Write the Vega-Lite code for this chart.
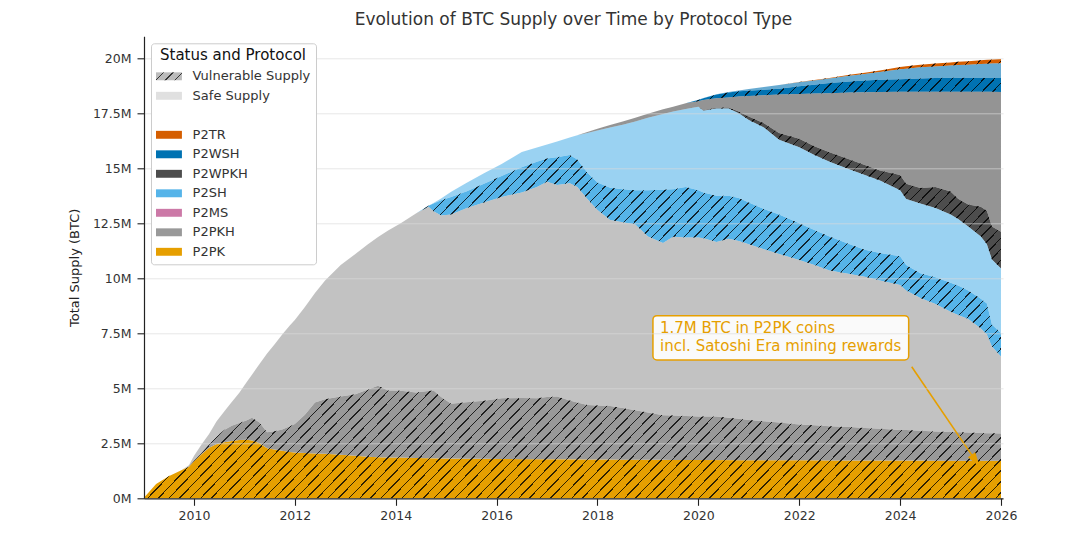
{
  "$schema": "https://vega.github.io/schema/vega-lite/v6.json",
  "width": 859,
  "height": 462,
  "autosize": {"type": "none"},
  "padding": {"left": 144, "top": 36.3, "right": 77, "bottom": 44.7},
  "background": "white",
  "title": {
    "text": "Evolution of BTC Supply over Time by Protocol Type",
    "fontSize": 17,
    "fontWeight": "normal",
    "color": "#333333",
    "anchor": "middle",
    "offset": 7
  },
  "config": {"font": "DejaVu Sans", "view": {"stroke": null}},
  "data": {
    "values": [
      {"t":2009,"p":"P2PK","s":"V","lo":0,"hi":0},
      {"t":2009.25,"p":"P2PK","s":"V","lo":0,"hi":0.65},
      {"t":2009.5,"p":"P2PK","s":"V","lo":0,"hi":1.0},
      {"t":2009.75,"p":"P2PK","s":"V","lo":0,"hi":1.27},
      {"t":2009.9,"p":"P2PK","s":"V","lo":0,"hi":1.43},
      {"t":2010,"p":"P2PK","s":"V","lo":0,"hi":1.68},
      {"t":2010.15,"p":"P2PK","s":"V","lo":0,"hi":2.0},
      {"t":2010.3,"p":"P2PK","s":"V","lo":0,"hi":2.3},
      {"t":2010.45,"p":"P2PK","s":"V","lo":0,"hi":2.47},
      {"t":2010.6,"p":"P2PK","s":"V","lo":0,"hi":2.55},
      {"t":2010.75,"p":"P2PK","s":"V","lo":0,"hi":2.6},
      {"t":2010.9,"p":"P2PK","s":"V","lo":0,"hi":2.65},
      {"t":2011.05,"p":"P2PK","s":"V","lo":0,"hi":2.66},
      {"t":2011.15,"p":"P2PK","s":"V","lo":0,"hi":2.63},
      {"t":2011.3,"p":"P2PK","s":"V","lo":0,"hi":2.5},
      {"t":2011.45,"p":"P2PK","s":"V","lo":0,"hi":2.28},
      {"t":2011.6,"p":"P2PK","s":"V","lo":0,"hi":2.22},
      {"t":2011.75,"p":"P2PK","s":"V","lo":0,"hi":2.16},
      {"t":2011.9,"p":"P2PK","s":"V","lo":0,"hi":2.1},
      {"t":2012,"p":"P2PK","s":"V","lo":0,"hi":2.08},
      {"t":2012.2,"p":"P2PK","s":"V","lo":0,"hi":2.06},
      {"t":2012.4,"p":"P2PK","s":"V","lo":0,"hi":2.04},
      {"t":2012.6,"p":"P2PK","s":"V","lo":0,"hi":2.03},
      {"t":2012.91,"p":"P2PK","s":"V","lo":0,"hi":1.98},
      {"t":2013.2,"p":"P2PK","s":"V","lo":0,"hi":1.93},
      {"t":2013.45,"p":"P2PK","s":"V","lo":0,"hi":1.89},
      {"t":2013.65,"p":"P2PK","s":"V","lo":0,"hi":1.87},
      {"t":2013.85,"p":"P2PK","s":"V","lo":0,"hi":1.86},
      {"t":2014.1,"p":"P2PK","s":"V","lo":0,"hi":1.85},
      {"t":2014.4,"p":"P2PK","s":"V","lo":0,"hi":1.83},
      {"t":2014.9,"p":"P2PK","s":"V","lo":0,"hi":1.81},
      {"t":2015.4,"p":"P2PK","s":"V","lo":0,"hi":1.8},
      {"t":2016.1,"p":"P2PK","s":"V","lo":0,"hi":1.79},
      {"t":2017,"p":"P2PK","s":"V","lo":0,"hi":1.77},
      {"t":2018,"p":"P2PK","s":"V","lo":0,"hi":1.76},
      {"t":2019,"p":"P2PK","s":"V","lo":0,"hi":1.75},
      {"t":2020,"p":"P2PK","s":"V","lo":0,"hi":1.74},
      {"t":2021,"p":"P2PK","s":"V","lo":0,"hi":1.73},
      {"t":2022,"p":"P2PK","s":"V","lo":0,"hi":1.73},
      {"t":2023,"p":"P2PK","s":"V","lo":0,"hi":1.72},
      {"t":2024,"p":"P2PK","s":"V","lo":0,"hi":1.72},
      {"t":2025,"p":"P2PK","s":"V","lo":0,"hi":1.71},
      {"t":2026,"p":"P2PK","s":"V","lo":0,"hi":1.71},
      {"s":"V"},
      {"t":2009.9,"p":"P2PKH","s":"V","lo":1.43,"hi":1.43},
      {"t":2010,"p":"P2PKH","s":"V","lo":1.68,"hi":1.7},
      {"t":2010.15,"p":"P2PKH","s":"V","lo":2.0,"hi":2.05},
      {"t":2010.3,"p":"P2PKH","s":"V","lo":2.3,"hi":2.45},
      {"t":2010.45,"p":"P2PKH","s":"V","lo":2.47,"hi":2.81},
      {"t":2010.6,"p":"P2PKH","s":"V","lo":2.55,"hi":3.1},
      {"t":2010.75,"p":"P2PKH","s":"V","lo":2.6,"hi":3.3},
      {"t":2010.9,"p":"P2PKH","s":"V","lo":2.65,"hi":3.42},
      {"t":2011.05,"p":"P2PKH","s":"V","lo":2.66,"hi":3.55},
      {"t":2011.15,"p":"P2PKH","s":"V","lo":2.63,"hi":3.66},
      {"t":2011.3,"p":"P2PKH","s":"V","lo":2.5,"hi":3.45},
      {"t":2011.45,"p":"P2PKH","s":"V","lo":2.28,"hi":3.0},
      {"t":2011.6,"p":"P2PKH","s":"V","lo":2.22,"hi":3.05},
      {"t":2011.75,"p":"P2PKH","s":"V","lo":2.16,"hi":3.13},
      {"t":2011.9,"p":"P2PKH","s":"V","lo":2.1,"hi":3.28},
      {"t":2012,"p":"P2PKH","s":"V","lo":2.08,"hi":3.38},
      {"t":2012.2,"p":"P2PKH","s":"V","lo":2.06,"hi":3.8},
      {"t":2012.4,"p":"P2PKH","s":"V","lo":2.04,"hi":4.35},
      {"t":2012.6,"p":"P2PKH","s":"V","lo":2.03,"hi":4.5},
      {"t":2012.91,"p":"P2PKH","s":"V","lo":1.98,"hi":4.63},
      {"t":2013.2,"p":"P2PKH","s":"V","lo":1.93,"hi":4.73},
      {"t":2013.45,"p":"P2PKH","s":"V","lo":1.89,"hi":4.95},
      {"t":2013.65,"p":"P2PKH","s":"V","lo":1.87,"hi":5.12},
      {"t":2013.85,"p":"P2PKH","s":"V","lo":1.86,"hi":4.9},
      {"t":2014.1,"p":"P2PKH","s":"V","lo":1.85,"hi":4.89},
      {"t":2014.4,"p":"P2PKH","s":"V","lo":1.83,"hi":4.81},
      {"t":2014.65,"p":"P2PKH","s":"V","lo":1.82,"hi":4.88},
      {"t":2014.75,"p":"P2PKH","s":"V","lo":1.82,"hi":4.9},
      {"t":2014.9,"p":"P2PKH","s":"V","lo":1.81,"hi":4.6},
      {"t":2015.1,"p":"P2PKH","s":"V","lo":1.81,"hi":4.3},
      {"t":2015.4,"p":"P2PKH","s":"V","lo":1.8,"hi":4.37},
      {"t":2015.75,"p":"P2PKH","s":"V","lo":1.8,"hi":4.43},
      {"t":2016.1,"p":"P2PKH","s":"V","lo":1.79,"hi":4.55},
      {"t":2016.5,"p":"P2PKH","s":"V","lo":1.78,"hi":4.56},
      {"t":2016.8,"p":"P2PKH","s":"V","lo":1.78,"hi":4.55},
      {"t":2017,"p":"P2PKH","s":"V","lo":1.77,"hi":4.6},
      {"t":2017.2,"p":"P2PKH","s":"V","lo":1.77,"hi":4.63},
      {"t":2017.45,"p":"P2PKH","s":"V","lo":1.77,"hi":4.45},
      {"t":2017.6,"p":"P2PKH","s":"V","lo":1.77,"hi":4.35},
      {"t":2017.8,"p":"P2PKH","s":"V","lo":1.76,"hi":4.24},
      {"t":2018,"p":"P2PKH","s":"V","lo":1.76,"hi":4.22},
      {"t":2018.25,"p":"P2PKH","s":"V","lo":1.76,"hi":4.2},
      {"t":2018.5,"p":"P2PKH","s":"V","lo":1.75,"hi":4.1},
      {"t":2018.75,"p":"P2PKH","s":"V","lo":1.75,"hi":4.0},
      {"t":2019,"p":"P2PKH","s":"V","lo":1.75,"hi":3.9},
      {"t":2019.3,"p":"P2PKH","s":"V","lo":1.75,"hi":3.78},
      {"t":2019.5,"p":"P2PKH","s":"V","lo":1.74,"hi":3.76},
      {"t":2019.75,"p":"P2PKH","s":"V","lo":1.74,"hi":3.74},
      {"t":2020,"p":"P2PKH","s":"V","lo":1.74,"hi":3.72},
      {"t":2020.1,"p":"P2PKH","s":"V","lo":1.74,"hi":3.72},
      {"t":2020.36,"p":"P2PKH","s":"V","lo":1.74,"hi":3.72},
      {"t":2020.6,"p":"P2PKH","s":"V","lo":1.74,"hi":3.66},
      {"t":2020.8,"p":"P2PKH","s":"V","lo":1.73,"hi":3.62},
      {"t":2021,"p":"P2PKH","s":"V","lo":1.73,"hi":3.56},
      {"t":2021.3,"p":"P2PKH","s":"V","lo":1.73,"hi":3.5},
      {"t":2021.6,"p":"P2PKH","s":"V","lo":1.73,"hi":3.44},
      {"t":2022,"p":"P2PKH","s":"V","lo":1.73,"hi":3.36},
      {"t":2022.3,"p":"P2PKH","s":"V","lo":1.73,"hi":3.32},
      {"t":2022.6,"p":"P2PKH","s":"V","lo":1.72,"hi":3.28},
      {"t":2023,"p":"P2PKH","s":"V","lo":1.72,"hi":3.24},
      {"t":2023.3,"p":"P2PKH","s":"V","lo":1.72,"hi":3.2},
      {"t":2023.6,"p":"P2PKH","s":"V","lo":1.72,"hi":3.16},
      {"t":2024,"p":"P2PKH","s":"V","lo":1.72,"hi":3.11},
      {"t":2024.12,"p":"P2PKH","s":"V","lo":1.72,"hi":3.1},
      {"t":2024.4,"p":"P2PKH","s":"V","lo":1.72,"hi":3.07},
      {"t":2024.7,"p":"P2PKH","s":"V","lo":1.71,"hi":3.04},
      {"t":2025,"p":"P2PKH","s":"V","lo":1.71,"hi":3.01},
      {"t":2025.15,"p":"P2PKH","s":"V","lo":1.71,"hi":3.0},
      {"t":2025.35,"p":"P2PKH","s":"V","lo":1.71,"hi":2.99},
      {"t":2025.6,"p":"P2PKH","s":"V","lo":1.71,"hi":2.97},
      {"t":2025.72,"p":"P2PKH","s":"V","lo":1.71,"hi":2.96},
      {"t":2025.82,"p":"P2PKH","s":"V","lo":1.71,"hi":2.96},
      {"t":2026,"p":"P2PKH","s":"V","lo":1.71,"hi":2.95},
      {"s":"V"},
      {"t":2014.4,"p":"P2SH","s":"V","lo":12.95,"hi":12.95},
      {"t":2014.65,"p":"P2SH","s":"V","lo":13.25,"hi":13.3},
      {"t":2014.75,"p":"P2SH","s":"V","lo":13.05,"hi":13.4},
      {"t":2014.9,"p":"P2SH","s":"V","lo":12.85,"hi":13.55},
      {"t":2015.1,"p":"P2SH","s":"V","lo":12.9,"hi":13.7},
      {"t":2015.4,"p":"P2SH","s":"V","lo":13.18,"hi":13.94},
      {"t":2015.75,"p":"P2SH","s":"V","lo":13.45,"hi":14.3},
      {"t":2016.1,"p":"P2SH","s":"V","lo":13.7,"hi":14.65},
      {"t":2016.5,"p":"P2SH","s":"V","lo":13.9,"hi":15.05},
      {"t":2016.8,"p":"P2SH","s":"V","lo":14.15,"hi":15.3},
      {"t":2017,"p":"P2SH","s":"V","lo":14.39,"hi":15.45},
      {"t":2017.2,"p":"P2SH","s":"V","lo":14.24,"hi":15.5},
      {"t":2017.45,"p":"P2SH","s":"V","lo":14.32,"hi":15.6},
      {"t":2017.6,"p":"P2SH","s":"V","lo":14.15,"hi":15.4},
      {"t":2017.8,"p":"P2SH","s":"V","lo":13.6,"hi":14.8},
      {"t":2018,"p":"P2SH","s":"V","lo":13.1,"hi":14.35},
      {"t":2018.25,"p":"P2SH","s":"V","lo":12.65,"hi":14.12},
      {"t":2018.5,"p":"P2SH","s":"V","lo":12.55,"hi":14.05},
      {"t":2018.75,"p":"P2SH","s":"V","lo":12.45,"hi":14.0},
      {"t":2019,"p":"P2SH","s":"V","lo":11.9,"hi":14.0},
      {"t":2019.3,"p":"P2SH","s":"V","lo":11.6,"hi":14.02},
      {"t":2019.5,"p":"P2SH","s":"V","lo":11.89,"hi":14.05},
      {"t":2019.75,"p":"P2SH","s":"V","lo":11.85,"hi":14.15},
      {"t":2020,"p":"P2SH","s":"V","lo":11.85,"hi":14.0},
      {"t":2020.1,"p":"P2SH","s":"V","lo":11.82,"hi":13.9},
      {"t":2020.36,"p":"P2SH","s":"V","lo":11.65,"hi":13.75},
      {"t":2020.6,"p":"P2SH","s":"V","lo":11.8,"hi":13.75},
      {"t":2020.8,"p":"P2SH","s":"V","lo":11.7,"hi":13.65},
      {"t":2021,"p":"P2SH","s":"V","lo":11.55,"hi":13.45},
      {"t":2021.3,"p":"P2SH","s":"V","lo":11.32,"hi":13.15},
      {"t":2021.6,"p":"P2SH","s":"V","lo":11.1,"hi":12.9},
      {"t":2022,"p":"P2SH","s":"V","lo":10.83,"hi":12.5},
      {"t":2022.3,"p":"P2SH","s":"V","lo":10.6,"hi":12.2},
      {"t":2022.6,"p":"P2SH","s":"V","lo":10.35,"hi":11.9},
      {"t":2023,"p":"P2SH","s":"V","lo":10.2,"hi":11.55},
      {"t":2023.3,"p":"P2SH","s":"V","lo":10.07,"hi":11.3},
      {"t":2023.6,"p":"P2SH","s":"V","lo":9.9,"hi":11.15},
      {"t":2024,"p":"P2SH","s":"V","lo":9.7,"hi":11.0},
      {"t":2024.12,"p":"P2SH","s":"V","lo":9.45,"hi":10.6},
      {"t":2024.4,"p":"P2SH","s":"V","lo":9.1,"hi":10.23},
      {"t":2024.7,"p":"P2SH","s":"V","lo":8.83,"hi":10.05},
      {"t":2025,"p":"P2SH","s":"V","lo":8.48,"hi":9.8},
      {"t":2025.15,"p":"P2SH","s":"V","lo":8.33,"hi":9.67},
      {"t":2025.35,"p":"P2SH","s":"V","lo":8.15,"hi":9.45},
      {"t":2025.6,"p":"P2SH","s":"V","lo":7.72,"hi":9.07},
      {"t":2025.72,"p":"P2SH","s":"V","lo":7.45,"hi":8.86},
      {"t":2025.82,"p":"P2SH","s":"V","lo":6.9,"hi":7.9},
      {"t":2026,"p":"P2SH","s":"V","lo":6.44,"hi":7.5},
      {"s":"V"},
      {"t":2020,"p":"P2WPKH","s":"V","lo":17.8,"hi":17.8},
      {"t":2020.1,"p":"P2WPKH","s":"V","lo":17.62,"hi":17.64},
      {"t":2020.36,"p":"P2WPKH","s":"V","lo":17.72,"hi":17.75},
      {"t":2020.6,"p":"P2WPKH","s":"V","lo":17.72,"hi":17.76},
      {"t":2020.8,"p":"P2WPKH","s":"V","lo":17.5,"hi":17.58},
      {"t":2021,"p":"P2WPKH","s":"V","lo":17.2,"hi":17.35},
      {"t":2021.3,"p":"P2WPKH","s":"V","lo":16.85,"hi":17.05},
      {"t":2021.6,"p":"P2WPKH","s":"V","lo":16.3,"hi":16.6},
      {"t":2022,"p":"P2WPKH","s":"V","lo":15.96,"hi":16.34},
      {"t":2022.3,"p":"P2WPKH","s":"V","lo":15.6,"hi":16.0},
      {"t":2022.6,"p":"P2WPKH","s":"V","lo":15.3,"hi":15.73},
      {"t":2023,"p":"P2WPKH","s":"V","lo":14.95,"hi":15.4},
      {"t":2023.3,"p":"P2WPKH","s":"V","lo":14.7,"hi":15.15},
      {"t":2023.6,"p":"P2WPKH","s":"V","lo":14.45,"hi":14.9},
      {"t":2024,"p":"P2WPKH","s":"V","lo":14.0,"hi":14.7},
      {"t":2024.12,"p":"P2WPKH","s":"V","lo":13.6,"hi":14.3},
      {"t":2024.4,"p":"P2WPKH","s":"V","lo":13.4,"hi":14.1},
      {"t":2024.7,"p":"P2WPKH","s":"V","lo":13.2,"hi":14.15},
      {"t":2025,"p":"P2WPKH","s":"V","lo":12.9,"hi":13.95},
      {"t":2025.15,"p":"P2WPKH","s":"V","lo":12.7,"hi":13.62},
      {"t":2025.35,"p":"P2WPKH","s":"V","lo":12.35,"hi":13.35},
      {"t":2025.6,"p":"P2WPKH","s":"V","lo":11.9,"hi":13.25},
      {"t":2025.72,"p":"P2WPKH","s":"V","lo":11.55,"hi":13.07},
      {"t":2025.82,"p":"P2WPKH","s":"V","lo":10.85,"hi":12.35},
      {"t":2026,"p":"P2WPKH","s":"V","lo":10.45,"hi":12.12},
      {"s":"V"},
      {"t":2019.75,"p":"P2WSH","s":"V","lo":17.96,"hi":17.96},
      {"t":2020,"p":"P2WSH","s":"V","lo":18.05,"hi":18.1},
      {"t":2020.1,"p":"P2WSH","s":"V","lo":18.1,"hi":18.18},
      {"t":2020.36,"p":"P2WSH","s":"V","lo":18.18,"hi":18.36},
      {"t":2020.6,"p":"P2WSH","s":"V","lo":18.22,"hi":18.44},
      {"t":2020.8,"p":"P2WSH","s":"V","lo":18.26,"hi":18.5},
      {"t":2021,"p":"P2WSH","s":"V","lo":18.29,"hi":18.53},
      {"t":2021.3,"p":"P2WSH","s":"V","lo":18.32,"hi":18.57},
      {"t":2021.6,"p":"P2WSH","s":"V","lo":18.35,"hi":18.62},
      {"t":2022,"p":"P2WSH","s":"V","lo":18.38,"hi":18.73},
      {"t":2022.3,"p":"P2WSH","s":"V","lo":18.4,"hi":18.8},
      {"t":2022.6,"p":"P2WSH","s":"V","lo":18.41,"hi":18.88},
      {"t":2023,"p":"P2WSH","s":"V","lo":18.44,"hi":18.95},
      {"t":2023.3,"p":"P2WSH","s":"V","lo":18.46,"hi":18.99},
      {"t":2023.6,"p":"P2WSH","s":"V","lo":18.47,"hi":19.02},
      {"t":2024,"p":"P2WSH","s":"V","lo":18.48,"hi":19.05},
      {"t":2024.12,"p":"P2WSH","s":"V","lo":18.48,"hi":19.06},
      {"t":2024.4,"p":"P2WSH","s":"V","lo":18.48,"hi":19.08},
      {"t":2024.7,"p":"P2WSH","s":"V","lo":18.48,"hi":19.1},
      {"t":2025,"p":"P2WSH","s":"V","lo":18.48,"hi":19.12},
      {"t":2025.15,"p":"P2WSH","s":"V","lo":18.48,"hi":19.12},
      {"t":2025.35,"p":"P2WSH","s":"V","lo":18.48,"hi":19.11},
      {"t":2025.6,"p":"P2WSH","s":"V","lo":18.48,"hi":19.1},
      {"t":2025.72,"p":"P2WSH","s":"V","lo":18.48,"hi":19.1},
      {"t":2025.82,"p":"P2WSH","s":"V","lo":18.48,"hi":19.1},
      {"t":2026,"p":"P2WSH","s":"V","lo":18.47,"hi":19.1},
      {"s":"V"},
      {"t":2021.6,"p":"P2TR","s":"V","lo":18.79,"hi":18.79},
      {"t":2022,"p":"P2TR","s":"V","lo":18.91,"hi":18.92},
      {"t":2022.3,"p":"P2TR","s":"V","lo":18.99,"hi":19.01},
      {"t":2022.6,"p":"P2TR","s":"V","lo":19.08,"hi":19.11},
      {"t":2023,"p":"P2TR","s":"V","lo":19.21,"hi":19.25},
      {"t":2023.3,"p":"P2TR","s":"V","lo":19.29,"hi":19.34},
      {"t":2023.6,"p":"P2TR","s":"V","lo":19.38,"hi":19.45},
      {"t":2024,"p":"P2TR","s":"V","lo":19.5,"hi":19.6},
      {"t":2024.12,"p":"P2TR","s":"V","lo":19.53,"hi":19.64},
      {"t":2024.4,"p":"P2TR","s":"V","lo":19.59,"hi":19.71},
      {"t":2024.7,"p":"P2TR","s":"V","lo":19.63,"hi":19.76},
      {"t":2025,"p":"P2TR","s":"V","lo":19.67,"hi":19.81},
      {"t":2025.15,"p":"P2TR","s":"V","lo":19.69,"hi":19.84},
      {"t":2025.35,"p":"P2TR","s":"V","lo":19.71,"hi":19.87},
      {"t":2025.6,"p":"P2TR","s":"V","lo":19.74,"hi":19.91},
      {"t":2025.72,"p":"P2TR","s":"V","lo":19.75,"hi":19.93},
      {"t":2025.82,"p":"P2TR","s":"V","lo":19.76,"hi":19.94},
      {"t":2026,"p":"P2TR","s":"V","lo":19.77,"hi":19.97},
      {"t":2009.75,"p":"P2PKH","s":"S","lo":1.27,"hi":1.27},
      {"t":2009.9,"p":"P2PKH","s":"S","lo":1.43,"hi":1.5},
      {"t":2010,"p":"P2PKH","s":"S","lo":1.7,"hi":1.92},
      {"t":2010.15,"p":"P2PKH","s":"S","lo":2.05,"hi":2.45},
      {"t":2010.3,"p":"P2PKH","s":"S","lo":2.45,"hi":2.92},
      {"t":2010.45,"p":"P2PKH","s":"S","lo":2.81,"hi":3.5},
      {"t":2010.6,"p":"P2PKH","s":"S","lo":3.1,"hi":3.95},
      {"t":2010.75,"p":"P2PKH","s":"S","lo":3.3,"hi":4.38},
      {"t":2010.9,"p":"P2PKH","s":"S","lo":3.42,"hi":4.8},
      {"t":2011.05,"p":"P2PKH","s":"S","lo":3.55,"hi":5.3},
      {"t":2011.15,"p":"P2PKH","s":"S","lo":3.66,"hi":5.62},
      {"t":2011.3,"p":"P2PKH","s":"S","lo":3.45,"hi":6.1},
      {"t":2011.45,"p":"P2PKH","s":"S","lo":3.0,"hi":6.58},
      {"t":2011.6,"p":"P2PKH","s":"S","lo":3.05,"hi":7.0},
      {"t":2011.75,"p":"P2PKH","s":"S","lo":3.13,"hi":7.45},
      {"t":2011.9,"p":"P2PKH","s":"S","lo":3.28,"hi":7.85},
      {"t":2012,"p":"P2PKH","s":"S","lo":3.38,"hi":8.1},
      {"t":2012.2,"p":"P2PKH","s":"S","lo":3.8,"hi":8.7},
      {"t":2012.4,"p":"P2PKH","s":"S","lo":4.35,"hi":9.33},
      {"t":2012.6,"p":"P2PKH","s":"S","lo":4.5,"hi":9.9},
      {"t":2012.91,"p":"P2PKH","s":"S","lo":4.63,"hi":10.6},
      {"t":2013.2,"p":"P2PKH","s":"S","lo":4.73,"hi":11.1},
      {"t":2013.45,"p":"P2PKH","s":"S","lo":4.95,"hi":11.55},
      {"t":2013.65,"p":"P2PKH","s":"S","lo":5.12,"hi":11.88},
      {"t":2013.85,"p":"P2PKH","s":"S","lo":4.9,"hi":12.17},
      {"t":2014.1,"p":"P2PKH","s":"S","lo":4.89,"hi":12.5},
      {"t":2014.4,"p":"P2PKH","s":"S","lo":4.81,"hi":12.95},
      {"t":2014.65,"p":"P2PKH","s":"S","lo":4.88,"hi":13.25},
      {"t":2014.75,"p":"P2PKH","s":"S","lo":4.9,"hi":13.05},
      {"t":2014.9,"p":"P2PKH","s":"S","lo":4.6,"hi":12.85},
      {"t":2015.1,"p":"P2PKH","s":"S","lo":4.3,"hi":12.9},
      {"t":2015.4,"p":"P2PKH","s":"S","lo":4.37,"hi":13.18},
      {"t":2015.75,"p":"P2PKH","s":"S","lo":4.43,"hi":13.45},
      {"t":2016.1,"p":"P2PKH","s":"S","lo":4.55,"hi":13.7},
      {"t":2016.5,"p":"P2PKH","s":"S","lo":4.56,"hi":13.9},
      {"t":2016.8,"p":"P2PKH","s":"S","lo":4.55,"hi":14.15},
      {"t":2017,"p":"P2PKH","s":"S","lo":4.6,"hi":14.39},
      {"t":2017.2,"p":"P2PKH","s":"S","lo":4.63,"hi":14.24},
      {"t":2017.45,"p":"P2PKH","s":"S","lo":4.45,"hi":14.32},
      {"t":2017.6,"p":"P2PKH","s":"S","lo":4.35,"hi":14.15},
      {"t":2017.8,"p":"P2PKH","s":"S","lo":4.24,"hi":13.6},
      {"t":2018,"p":"P2PKH","s":"S","lo":4.22,"hi":13.1},
      {"t":2018.25,"p":"P2PKH","s":"S","lo":4.2,"hi":12.65},
      {"t":2018.5,"p":"P2PKH","s":"S","lo":4.1,"hi":12.55},
      {"t":2018.75,"p":"P2PKH","s":"S","lo":4.0,"hi":12.45},
      {"t":2019,"p":"P2PKH","s":"S","lo":3.9,"hi":11.9},
      {"t":2019.3,"p":"P2PKH","s":"S","lo":3.78,"hi":11.6},
      {"t":2019.5,"p":"P2PKH","s":"S","lo":3.76,"hi":11.89},
      {"t":2019.75,"p":"P2PKH","s":"S","lo":3.74,"hi":11.85},
      {"t":2020,"p":"P2PKH","s":"S","lo":3.72,"hi":11.85},
      {"t":2020.1,"p":"P2PKH","s":"S","lo":3.72,"hi":11.82},
      {"t":2020.36,"p":"P2PKH","s":"S","lo":3.72,"hi":11.65},
      {"t":2020.6,"p":"P2PKH","s":"S","lo":3.66,"hi":11.8},
      {"t":2020.8,"p":"P2PKH","s":"S","lo":3.62,"hi":11.7},
      {"t":2021,"p":"P2PKH","s":"S","lo":3.56,"hi":11.55},
      {"t":2021.3,"p":"P2PKH","s":"S","lo":3.5,"hi":11.32},
      {"t":2021.6,"p":"P2PKH","s":"S","lo":3.44,"hi":11.1},
      {"t":2022,"p":"P2PKH","s":"S","lo":3.36,"hi":10.83},
      {"t":2022.3,"p":"P2PKH","s":"S","lo":3.32,"hi":10.6},
      {"t":2022.6,"p":"P2PKH","s":"S","lo":3.28,"hi":10.35},
      {"t":2023,"p":"P2PKH","s":"S","lo":3.24,"hi":10.2},
      {"t":2023.3,"p":"P2PKH","s":"S","lo":3.2,"hi":10.07},
      {"t":2023.6,"p":"P2PKH","s":"S","lo":3.16,"hi":9.9},
      {"t":2024,"p":"P2PKH","s":"S","lo":3.11,"hi":9.7},
      {"t":2024.12,"p":"P2PKH","s":"S","lo":3.1,"hi":9.45},
      {"t":2024.4,"p":"P2PKH","s":"S","lo":3.07,"hi":9.1},
      {"t":2024.7,"p":"P2PKH","s":"S","lo":3.04,"hi":8.83},
      {"t":2025,"p":"P2PKH","s":"S","lo":3.01,"hi":8.48},
      {"t":2025.15,"p":"P2PKH","s":"S","lo":3.0,"hi":8.33},
      {"t":2025.35,"p":"P2PKH","s":"S","lo":2.99,"hi":8.15},
      {"t":2025.6,"p":"P2PKH","s":"S","lo":2.97,"hi":7.72},
      {"t":2025.72,"p":"P2PKH","s":"S","lo":2.96,"hi":7.45},
      {"t":2025.82,"p":"P2PKH","s":"S","lo":2.96,"hi":6.9},
      {"t":2026,"p":"P2PKH","s":"S","lo":2.95,"hi":6.44},
      {"t":2014.4,"p":"P2SH","s":"S","lo":12.95,"hi":12.95},
      {"t":2014.65,"p":"P2SH","s":"S","lo":13.3,"hi":13.3},
      {"t":2014.75,"p":"P2SH","s":"S","lo":13.4,"hi":13.42},
      {"t":2014.9,"p":"P2SH","s":"S","lo":13.55,"hi":13.63},
      {"t":2015.1,"p":"P2SH","s":"S","lo":13.7,"hi":13.93},
      {"t":2015.4,"p":"P2SH","s":"S","lo":13.94,"hi":14.33},
      {"t":2015.75,"p":"P2SH","s":"S","lo":14.3,"hi":14.78},
      {"t":2016.1,"p":"P2SH","s":"S","lo":14.65,"hi":15.2},
      {"t":2016.5,"p":"P2SH","s":"S","lo":15.05,"hi":15.74},
      {"t":2016.8,"p":"P2SH","s":"S","lo":15.3,"hi":15.95},
      {"t":2017,"p":"P2SH","s":"S","lo":15.45,"hi":16.08},
      {"t":2017.2,"p":"P2SH","s":"S","lo":15.5,"hi":16.22},
      {"t":2017.45,"p":"P2SH","s":"S","lo":15.6,"hi":16.4},
      {"t":2017.6,"p":"P2SH","s":"S","lo":15.4,"hi":16.5},
      {"t":2017.8,"p":"P2SH","s":"S","lo":14.8,"hi":16.6},
      {"t":2018,"p":"P2SH","s":"S","lo":14.35,"hi":16.72},
      {"t":2018.25,"p":"P2SH","s":"S","lo":14.12,"hi":16.85},
      {"t":2018.5,"p":"P2SH","s":"S","lo":14.05,"hi":16.98},
      {"t":2018.75,"p":"P2SH","s":"S","lo":14.0,"hi":17.13},
      {"t":2019,"p":"P2SH","s":"S","lo":14.0,"hi":17.3},
      {"t":2019.3,"p":"P2SH","s":"S","lo":14.02,"hi":17.47},
      {"t":2019.5,"p":"P2SH","s":"S","lo":14.05,"hi":17.58},
      {"t":2019.75,"p":"P2SH","s":"S","lo":14.15,"hi":17.7},
      {"t":2020,"p":"P2SH","s":"S","lo":14.0,"hi":17.8},
      {"t":2020.1,"p":"P2SH","s":"S","lo":13.9,"hi":17.62},
      {"t":2020.36,"p":"P2SH","s":"S","lo":13.75,"hi":17.72},
      {"t":2020.6,"p":"P2SH","s":"S","lo":13.75,"hi":17.72},
      {"t":2020.8,"p":"P2SH","s":"S","lo":13.65,"hi":17.5},
      {"t":2021,"p":"P2SH","s":"S","lo":13.45,"hi":17.2},
      {"t":2021.3,"p":"P2SH","s":"S","lo":13.15,"hi":16.85},
      {"t":2021.6,"p":"P2SH","s":"S","lo":12.9,"hi":16.3},
      {"t":2022,"p":"P2SH","s":"S","lo":12.5,"hi":15.96},
      {"t":2022.3,"p":"P2SH","s":"S","lo":12.2,"hi":15.6},
      {"t":2022.6,"p":"P2SH","s":"S","lo":11.9,"hi":15.3},
      {"t":2023,"p":"P2SH","s":"S","lo":11.55,"hi":14.95},
      {"t":2023.3,"p":"P2SH","s":"S","lo":11.3,"hi":14.7},
      {"t":2023.6,"p":"P2SH","s":"S","lo":11.15,"hi":14.45},
      {"t":2024,"p":"P2SH","s":"S","lo":11.0,"hi":14.0},
      {"t":2024.12,"p":"P2SH","s":"S","lo":10.6,"hi":13.6},
      {"t":2024.4,"p":"P2SH","s":"S","lo":10.23,"hi":13.4},
      {"t":2024.7,"p":"P2SH","s":"S","lo":10.05,"hi":13.2},
      {"t":2025,"p":"P2SH","s":"S","lo":9.8,"hi":12.9},
      {"t":2025.15,"p":"P2SH","s":"S","lo":9.67,"hi":12.7},
      {"t":2025.35,"p":"P2SH","s":"S","lo":9.45,"hi":12.35},
      {"t":2025.6,"p":"P2SH","s":"S","lo":9.07,"hi":11.9},
      {"t":2025.72,"p":"P2SH","s":"S","lo":8.86,"hi":11.55},
      {"t":2025.82,"p":"P2SH","s":"S","lo":7.9,"hi":10.85},
      {"t":2026,"p":"P2SH","s":"S","lo":7.5,"hi":10.45},
      {"t":2017.6,"p":"P2WPKH","s":"S","lo":16.5,"hi":16.5},
      {"t":2017.8,"p":"P2WPKH","s":"S","lo":16.6,"hi":16.65},
      {"t":2018,"p":"P2WPKH","s":"S","lo":16.72,"hi":16.8},
      {"t":2018.25,"p":"P2WPKH","s":"S","lo":16.85,"hi":16.97},
      {"t":2018.5,"p":"P2WPKH","s":"S","lo":16.98,"hi":17.13},
      {"t":2018.75,"p":"P2WPKH","s":"S","lo":17.13,"hi":17.3},
      {"t":2019,"p":"P2WPKH","s":"S","lo":17.3,"hi":17.48},
      {"t":2019.3,"p":"P2WPKH","s":"S","lo":17.47,"hi":17.68},
      {"t":2019.5,"p":"P2WPKH","s":"S","lo":17.58,"hi":17.8},
      {"t":2019.75,"p":"P2WPKH","s":"S","lo":17.7,"hi":17.96},
      {"t":2020,"p":"P2WPKH","s":"S","lo":17.8,"hi":18.05},
      {"t":2020.1,"p":"P2WPKH","s":"S","lo":17.64,"hi":18.1},
      {"t":2020.36,"p":"P2WPKH","s":"S","lo":17.75,"hi":18.18},
      {"t":2020.6,"p":"P2WPKH","s":"S","lo":17.76,"hi":18.22},
      {"t":2020.8,"p":"P2WPKH","s":"S","lo":17.58,"hi":18.26},
      {"t":2021,"p":"P2WPKH","s":"S","lo":17.35,"hi":18.29},
      {"t":2021.3,"p":"P2WPKH","s":"S","lo":17.05,"hi":18.32},
      {"t":2021.6,"p":"P2WPKH","s":"S","lo":16.6,"hi":18.35},
      {"t":2022,"p":"P2WPKH","s":"S","lo":16.34,"hi":18.38},
      {"t":2022.3,"p":"P2WPKH","s":"S","lo":16.0,"hi":18.4},
      {"t":2022.6,"p":"P2WPKH","s":"S","lo":15.73,"hi":18.41},
      {"t":2023,"p":"P2WPKH","s":"S","lo":15.4,"hi":18.44},
      {"t":2023.3,"p":"P2WPKH","s":"S","lo":15.15,"hi":18.46},
      {"t":2023.6,"p":"P2WPKH","s":"S","lo":14.9,"hi":18.47},
      {"t":2024,"p":"P2WPKH","s":"S","lo":14.7,"hi":18.48},
      {"t":2024.12,"p":"P2WPKH","s":"S","lo":14.3,"hi":18.48},
      {"t":2024.4,"p":"P2WPKH","s":"S","lo":14.1,"hi":18.48},
      {"t":2024.7,"p":"P2WPKH","s":"S","lo":14.15,"hi":18.48},
      {"t":2025,"p":"P2WPKH","s":"S","lo":13.95,"hi":18.48},
      {"t":2025.15,"p":"P2WPKH","s":"S","lo":13.62,"hi":18.48},
      {"t":2025.35,"p":"P2WPKH","s":"S","lo":13.35,"hi":18.48},
      {"t":2025.6,"p":"P2WPKH","s":"S","lo":13.25,"hi":18.48},
      {"t":2025.72,"p":"P2WPKH","s":"S","lo":13.07,"hi":18.48},
      {"t":2025.82,"p":"P2WPKH","s":"S","lo":12.35,"hi":18.48},
      {"t":2026,"p":"P2WPKH","s":"S","lo":12.12,"hi":18.47},
      {"t":2019.75,"p":"P2WSH","s":"S","lo":17.96,"hi":17.96},
      {"t":2020,"p":"P2WSH","s":"S","lo":18.1,"hi":18.12},
      {"t":2020.1,"p":"P2WSH","s":"S","lo":18.18,"hi":18.2},
      {"t":2020.36,"p":"P2WSH","s":"S","lo":18.36,"hi":18.37},
      {"t":2020.6,"p":"P2WSH","s":"S","lo":18.44,"hi":18.47},
      {"t":2020.8,"p":"P2WSH","s":"S","lo":18.5,"hi":18.54},
      {"t":2021,"p":"P2WSH","s":"S","lo":18.53,"hi":18.6},
      {"t":2021.3,"p":"P2WSH","s":"S","lo":18.57,"hi":18.7},
      {"t":2021.6,"p":"P2WSH","s":"S","lo":18.62,"hi":18.79},
      {"t":2022,"p":"P2WSH","s":"S","lo":18.73,"hi":18.91},
      {"t":2022.3,"p":"P2WSH","s":"S","lo":18.8,"hi":18.99},
      {"t":2022.6,"p":"P2WSH","s":"S","lo":18.88,"hi":19.08},
      {"t":2023,"p":"P2WSH","s":"S","lo":18.95,"hi":19.21},
      {"t":2023.3,"p":"P2WSH","s":"S","lo":18.99,"hi":19.29},
      {"t":2023.6,"p":"P2WSH","s":"S","lo":19.02,"hi":19.38},
      {"t":2024,"p":"P2WSH","s":"S","lo":19.05,"hi":19.5},
      {"t":2024.12,"p":"P2WSH","s":"S","lo":19.06,"hi":19.53},
      {"t":2024.4,"p":"P2WSH","s":"S","lo":19.08,"hi":19.59},
      {"t":2024.7,"p":"P2WSH","s":"S","lo":19.1,"hi":19.63},
      {"t":2025,"p":"P2WSH","s":"S","lo":19.12,"hi":19.67},
      {"t":2025.15,"p":"P2WSH","s":"S","lo":19.12,"hi":19.69},
      {"t":2025.35,"p":"P2WSH","s":"S","lo":19.11,"hi":19.71},
      {"t":2025.6,"p":"P2WSH","s":"S","lo":19.1,"hi":19.74},
      {"t":2025.72,"p":"P2WSH","s":"S","lo":19.1,"hi":19.75},
      {"t":2025.82,"p":"P2WSH","s":"S","lo":19.1,"hi":19.76},
      {"t":2026,"p":"P2WSH","s":"S","lo":19.1,"hi":19.77}
    ]
  },
  "encoding": {
    "x": {
      "field": "t",
      "type": "quantitative",
      "scale": {"domain": [2009.01, 2026.04], "nice": false, "zero": false},
      "axis": {
        "title": null,
        "values": [2010, 2012, 2014, 2016, 2018, 2020, 2022, 2024, 2026],
        "format": "d",
        "grid": false,
        "tickSize": 7,
        "labelPadding": 4,
        "labelFontSize": 12.5,
        "labelColor": "#333333",
        "domainColor": "#222222",
        "domainWidth": 1.2,
        "tickColor": "#222222",
        "tickWidth": 1.1,
        "zindex": 1
      }
    },
    "y": {
      "field": "hi",
      "type": "quantitative",
      "scale": {"domain": [0, 21], "nice": false},
      "axis": {
        "title": "Total Supply (BTC)",
        "titleFontSize": 13,
        "titleFontWeight": "normal",
        "titleColor": "#222222",
        "titlePadding": 11,
        "values": [0, 2.5, 5, 7.5, 10, 12.5, 15, 17.5, 20],
        "labelExpr": "datum.value + 'M'",
        "grid": true,
        "gridColor": "#d8d8d8",
        "gridOpacity": 0.65,
        "tickSize": 7,
        "labelPadding": 6,
        "labelFontSize": 12.5,
        "labelColor": "#333333",
        "domainColor": "#222222",
        "domainWidth": 1.2,
        "tickColor": "#222222",
        "tickWidth": 1.1,
        "zindex": 1
      }
    }
  },
  "layer": [
    {
      "transform": [{"filter": "isValid(datum.p)"}],
      "mark": {"type": "area", "interpolate": "linear"},
      "encoding": {
        "y2": {"field": "lo"},
        "fill": {
          "field": "p",
          "type": "nominal",
          "scale": {
            "domain": ["Vulnerable Supply", "Safe Supply", " ", "P2TR", "P2WSH", "P2WPKH", "P2SH", "P2MS", "P2PKH", "P2PK"],
            "range": [
              {"expr": "({gradient: 'linear', x1: 0, y1: 0, x2: 1.194, y2: 0.364, stops: [{offset: 0, color: '#bbbbbb'}, {offset: 0.2, color: '#bbbbbb'}, {offset: 0.2, color: '#333333'}, {offset: 0.245, color: '#333333'}, {offset: 0.245, color: '#bbbbbb'}, {offset: 0.48, color: '#bbbbbb'}, {offset: 0.48, color: '#333333'}, {offset: 0.525, color: '#333333'}, {offset: 0.525, color: '#bbbbbb'}, {offset: 0.76, color: '#bbbbbb'}, {offset: 0.76, color: '#333333'}, {offset: 0.805, color: '#333333'}, {offset: 0.805, color: '#bbbbbb'}, {offset: 1, color: '#bbbbbb'}]})"},
              "#e0e0e0", "#ffffff", "#D55E00", "#0072B2", "#4D4D4D", "#56B4E9", "#CC79A7", "#999999", "#E69F00"
            ]
          },
          "legend": {
            "title": "Status and Protocol",
            "orient": "top-left",
            "offset": 7,
            "padding": 5,
            "fillColor": "#ffffff",
            "strokeColor": "#cccccc",
            "cornerRadius": 3,
            "zindex": 2,
            "symbolType": "M-1,-0.44H1.88V0.44H-1Z",
            "symbolSize": 324,
            "symbolStrokeWidth": 0,
            "symbolOpacity": 1,
            "labelFontSize": 13,
            "labelColor": "#333333",
            "labelOffset": 18.6,
            "rowPadding": 3.5,
            "titleFontSize": 15,
            "titleFontWeight": "normal",
            "titleColor": "#111111",
            "titleAnchor": "middle",
            "titlePadding": 4
          }
        },
        "fillOpacity": {
          "field": "s",
          "type": "ordinal",
          "scale": {"domain": ["V", "S"], "range": [1, 0.6]},
          "legend": null
        }
      }
    },
    {
      "transform": [{"filter": "datum.s === 'V'"}],
      "mark": {
        "type": "area",
        "fillOpacity": 0.8,
        "fill": {
          "gradient": "linear", "x1": 0, "y1": 0, "x2": 1.2455, "y2": 0.611,
          "stops": [
            {"offset":0,"color":"#0000"},{"offset":0,"color":"#000"},{"offset":0.0011,"color":"#000"},{"offset":0.0011,"color":"#0000"},
            {"offset":0.008,"color":"#0000"},{"offset":0.008,"color":"#000"},{"offset":0.0091,"color":"#000"},{"offset":0.0091,"color":"#0000"},
            {"offset":0.016,"color":"#0000"},{"offset":0.016,"color":"#000"},{"offset":0.0171,"color":"#000"},{"offset":0.0171,"color":"#0000"},
            {"offset":0.024,"color":"#0000"},{"offset":0.024,"color":"#000"},{"offset":0.0251,"color":"#000"},{"offset":0.0251,"color":"#0000"},
            {"offset":0.032,"color":"#0000"},{"offset":0.032,"color":"#000"},{"offset":0.0331,"color":"#000"},{"offset":0.0331,"color":"#0000"},
            {"offset":0.04,"color":"#0000"},{"offset":0.04,"color":"#000"},{"offset":0.0411,"color":"#000"},{"offset":0.0411,"color":"#0000"},
            {"offset":0.048,"color":"#0000"},{"offset":0.048,"color":"#000"},{"offset":0.0491,"color":"#000"},{"offset":0.0491,"color":"#0000"},
            {"offset":0.056,"color":"#0000"},{"offset":0.056,"color":"#000"},{"offset":0.0571,"color":"#000"},{"offset":0.0571,"color":"#0000"},
            {"offset":0.064,"color":"#0000"},{"offset":0.064,"color":"#000"},{"offset":0.0651,"color":"#000"},{"offset":0.0651,"color":"#0000"},
            {"offset":0.072,"color":"#0000"},{"offset":0.072,"color":"#000"},{"offset":0.0731,"color":"#000"},{"offset":0.0731,"color":"#0000"},
            {"offset":0.08,"color":"#0000"},{"offset":0.08,"color":"#000"},{"offset":0.0811,"color":"#000"},{"offset":0.0811,"color":"#0000"},
            {"offset":0.088,"color":"#0000"},{"offset":0.088,"color":"#000"},{"offset":0.0891,"color":"#000"},{"offset":0.0891,"color":"#0000"},
            {"offset":0.096,"color":"#0000"},{"offset":0.096,"color":"#000"},{"offset":0.0971,"color":"#000"},{"offset":0.0971,"color":"#0000"},
            {"offset":0.104,"color":"#0000"},{"offset":0.104,"color":"#000"},{"offset":0.1051,"color":"#000"},{"offset":0.1051,"color":"#0000"},
            {"offset":0.112,"color":"#0000"},{"offset":0.112,"color":"#000"},{"offset":0.1131,"color":"#000"},{"offset":0.1131,"color":"#0000"},
            {"offset":0.12,"color":"#0000"},{"offset":0.12,"color":"#000"},{"offset":0.1211,"color":"#000"},{"offset":0.1211,"color":"#0000"},
            {"offset":0.128,"color":"#0000"},{"offset":0.128,"color":"#000"},{"offset":0.1291,"color":"#000"},{"offset":0.1291,"color":"#0000"},
            {"offset":0.136,"color":"#0000"},{"offset":0.136,"color":"#000"},{"offset":0.1371,"color":"#000"},{"offset":0.1371,"color":"#0000"},
            {"offset":0.144,"color":"#0000"},{"offset":0.144,"color":"#000"},{"offset":0.1451,"color":"#000"},{"offset":0.1451,"color":"#0000"},
            {"offset":0.152,"color":"#0000"},{"offset":0.152,"color":"#000"},{"offset":0.1531,"color":"#000"},{"offset":0.1531,"color":"#0000"},
            {"offset":0.16,"color":"#0000"},{"offset":0.16,"color":"#000"},{"offset":0.1611,"color":"#000"},{"offset":0.1611,"color":"#0000"},
            {"offset":0.168,"color":"#0000"},{"offset":0.168,"color":"#000"},{"offset":0.1691,"color":"#000"},{"offset":0.1691,"color":"#0000"},
            {"offset":0.176,"color":"#0000"},{"offset":0.176,"color":"#000"},{"offset":0.1771,"color":"#000"},{"offset":0.1771,"color":"#0000"},
            {"offset":0.184,"color":"#0000"},{"offset":0.184,"color":"#000"},{"offset":0.1851,"color":"#000"},{"offset":0.1851,"color":"#0000"},
            {"offset":0.192,"color":"#0000"},{"offset":0.192,"color":"#000"},{"offset":0.1931,"color":"#000"},{"offset":0.1931,"color":"#0000"},
            {"offset":0.2,"color":"#0000"},{"offset":0.2,"color":"#000"},{"offset":0.2011,"color":"#000"},{"offset":0.2011,"color":"#0000"},
            {"offset":0.208,"color":"#0000"},{"offset":0.208,"color":"#000"},{"offset":0.2091,"color":"#000"},{"offset":0.2091,"color":"#0000"},
            {"offset":0.216,"color":"#0000"},{"offset":0.216,"color":"#000"},{"offset":0.2171,"color":"#000"},{"offset":0.2171,"color":"#0000"},
            {"offset":0.224,"color":"#0000"},{"offset":0.224,"color":"#000"},{"offset":0.2251,"color":"#000"},{"offset":0.2251,"color":"#0000"},
            {"offset":0.232,"color":"#0000"},{"offset":0.232,"color":"#000"},{"offset":0.2331,"color":"#000"},{"offset":0.2331,"color":"#0000"},
            {"offset":0.24,"color":"#0000"},{"offset":0.24,"color":"#000"},{"offset":0.2411,"color":"#000"},{"offset":0.2411,"color":"#0000"},
            {"offset":0.248,"color":"#0000"},{"offset":0.248,"color":"#000"},{"offset":0.2491,"color":"#000"},{"offset":0.2491,"color":"#0000"},
            {"offset":0.256,"color":"#0000"},{"offset":0.256,"color":"#000"},{"offset":0.2571,"color":"#000"},{"offset":0.2571,"color":"#0000"},
            {"offset":0.264,"color":"#0000"},{"offset":0.264,"color":"#000"},{"offset":0.2651,"color":"#000"},{"offset":0.2651,"color":"#0000"},
            {"offset":0.272,"color":"#0000"},{"offset":0.272,"color":"#000"},{"offset":0.2731,"color":"#000"},{"offset":0.2731,"color":"#0000"},
            {"offset":0.28,"color":"#0000"},{"offset":0.28,"color":"#000"},{"offset":0.2811,"color":"#000"},{"offset":0.2811,"color":"#0000"},
            {"offset":0.288,"color":"#0000"},{"offset":0.288,"color":"#000"},{"offset":0.2891,"color":"#000"},{"offset":0.2891,"color":"#0000"},
            {"offset":0.296,"color":"#0000"},{"offset":0.296,"color":"#000"},{"offset":0.2971,"color":"#000"},{"offset":0.2971,"color":"#0000"},
            {"offset":0.304,"color":"#0000"},{"offset":0.304,"color":"#000"},{"offset":0.3051,"color":"#000"},{"offset":0.3051,"color":"#0000"},
            {"offset":0.312,"color":"#0000"},{"offset":0.312,"color":"#000"},{"offset":0.3131,"color":"#000"},{"offset":0.3131,"color":"#0000"},
            {"offset":0.32,"color":"#0000"},{"offset":0.32,"color":"#000"},{"offset":0.3211,"color":"#000"},{"offset":0.3211,"color":"#0000"},
            {"offset":0.328,"color":"#0000"},{"offset":0.328,"color":"#000"},{"offset":0.3291,"color":"#000"},{"offset":0.3291,"color":"#0000"},
            {"offset":0.336,"color":"#0000"},{"offset":0.336,"color":"#000"},{"offset":0.3371,"color":"#000"},{"offset":0.3371,"color":"#0000"},
            {"offset":0.344,"color":"#0000"},{"offset":0.344,"color":"#000"},{"offset":0.3451,"color":"#000"},{"offset":0.3451,"color":"#0000"},
            {"offset":0.352,"color":"#0000"},{"offset":0.352,"color":"#000"},{"offset":0.3531,"color":"#000"},{"offset":0.3531,"color":"#0000"},
            {"offset":0.36,"color":"#0000"},{"offset":0.36,"color":"#000"},{"offset":0.3611,"color":"#000"},{"offset":0.3611,"color":"#0000"},
            {"offset":0.368,"color":"#0000"},{"offset":0.368,"color":"#000"},{"offset":0.3691,"color":"#000"},{"offset":0.3691,"color":"#0000"},
            {"offset":0.376,"color":"#0000"},{"offset":0.376,"color":"#000"},{"offset":0.3771,"color":"#000"},{"offset":0.3771,"color":"#0000"},
            {"offset":0.384,"color":"#0000"},{"offset":0.384,"color":"#000"},{"offset":0.3851,"color":"#000"},{"offset":0.3851,"color":"#0000"},
            {"offset":0.392,"color":"#0000"},{"offset":0.392,"color":"#000"},{"offset":0.3931,"color":"#000"},{"offset":0.3931,"color":"#0000"},
            {"offset":0.4,"color":"#0000"},{"offset":0.4,"color":"#000"},{"offset":0.4011,"color":"#000"},{"offset":0.4011,"color":"#0000"},
            {"offset":0.408,"color":"#0000"},{"offset":0.408,"color":"#000"},{"offset":0.4091,"color":"#000"},{"offset":0.4091,"color":"#0000"},
            {"offset":0.416,"color":"#0000"},{"offset":0.416,"color":"#000"},{"offset":0.4171,"color":"#000"},{"offset":0.4171,"color":"#0000"},
            {"offset":0.424,"color":"#0000"},{"offset":0.424,"color":"#000"},{"offset":0.4251,"color":"#000"},{"offset":0.4251,"color":"#0000"},
            {"offset":0.432,"color":"#0000"},{"offset":0.432,"color":"#000"},{"offset":0.4331,"color":"#000"},{"offset":0.4331,"color":"#0000"},
            {"offset":0.44,"color":"#0000"},{"offset":0.44,"color":"#000"},{"offset":0.4411,"color":"#000"},{"offset":0.4411,"color":"#0000"},
            {"offset":0.448,"color":"#0000"},{"offset":0.448,"color":"#000"},{"offset":0.4491,"color":"#000"},{"offset":0.4491,"color":"#0000"},
            {"offset":0.456,"color":"#0000"},{"offset":0.456,"color":"#000"},{"offset":0.4571,"color":"#000"},{"offset":0.4571,"color":"#0000"},
            {"offset":0.464,"color":"#0000"},{"offset":0.464,"color":"#000"},{"offset":0.4651,"color":"#000"},{"offset":0.4651,"color":"#0000"},
            {"offset":0.472,"color":"#0000"},{"offset":0.472,"color":"#000"},{"offset":0.4731,"color":"#000"},{"offset":0.4731,"color":"#0000"},
            {"offset":0.48,"color":"#0000"},{"offset":0.48,"color":"#000"},{"offset":0.4811,"color":"#000"},{"offset":0.4811,"color":"#0000"},
            {"offset":0.488,"color":"#0000"},{"offset":0.488,"color":"#000"},{"offset":0.4891,"color":"#000"},{"offset":0.4891,"color":"#0000"},
            {"offset":0.496,"color":"#0000"},{"offset":0.496,"color":"#000"},{"offset":0.4971,"color":"#000"},{"offset":0.4971,"color":"#0000"},
            {"offset":0.504,"color":"#0000"},{"offset":0.504,"color":"#000"},{"offset":0.5051,"color":"#000"},{"offset":0.5051,"color":"#0000"},
            {"offset":0.512,"color":"#0000"},{"offset":0.512,"color":"#000"},{"offset":0.5131,"color":"#000"},{"offset":0.5131,"color":"#0000"},
            {"offset":0.52,"color":"#0000"},{"offset":0.52,"color":"#000"},{"offset":0.5211,"color":"#000"},{"offset":0.5211,"color":"#0000"},
            {"offset":0.528,"color":"#0000"},{"offset":0.528,"color":"#000"},{"offset":0.5291,"color":"#000"},{"offset":0.5291,"color":"#0000"},
            {"offset":0.536,"color":"#0000"},{"offset":0.536,"color":"#000"},{"offset":0.5371,"color":"#000"},{"offset":0.5371,"color":"#0000"},
            {"offset":0.544,"color":"#0000"},{"offset":0.544,"color":"#000"},{"offset":0.5451,"color":"#000"},{"offset":0.5451,"color":"#0000"},
            {"offset":0.552,"color":"#0000"},{"offset":0.552,"color":"#000"},{"offset":0.5531,"color":"#000"},{"offset":0.5531,"color":"#0000"},
            {"offset":0.56,"color":"#0000"},{"offset":0.56,"color":"#000"},{"offset":0.5611,"color":"#000"},{"offset":0.5611,"color":"#0000"},
            {"offset":0.568,"color":"#0000"},{"offset":0.568,"color":"#000"},{"offset":0.5691,"color":"#000"},{"offset":0.5691,"color":"#0000"},
            {"offset":0.576,"color":"#0000"},{"offset":0.576,"color":"#000"},{"offset":0.5771,"color":"#000"},{"offset":0.5771,"color":"#0000"},
            {"offset":0.584,"color":"#0000"},{"offset":0.584,"color":"#000"},{"offset":0.5851,"color":"#000"},{"offset":0.5851,"color":"#0000"},
            {"offset":0.592,"color":"#0000"},{"offset":0.592,"color":"#000"},{"offset":0.5931,"color":"#000"},{"offset":0.5931,"color":"#0000"},
            {"offset":0.6,"color":"#0000"},{"offset":0.6,"color":"#000"},{"offset":0.6011,"color":"#000"},{"offset":0.6011,"color":"#0000"},
            {"offset":0.608,"color":"#0000"},{"offset":0.608,"color":"#000"},{"offset":0.6091,"color":"#000"},{"offset":0.6091,"color":"#0000"},
            {"offset":0.616,"color":"#0000"},{"offset":0.616,"color":"#000"},{"offset":0.6171,"color":"#000"},{"offset":0.6171,"color":"#0000"},
            {"offset":0.624,"color":"#0000"},{"offset":0.624,"color":"#000"},{"offset":0.6251,"color":"#000"},{"offset":0.6251,"color":"#0000"},
            {"offset":0.632,"color":"#0000"},{"offset":0.632,"color":"#000"},{"offset":0.6331,"color":"#000"},{"offset":0.6331,"color":"#0000"},
            {"offset":0.64,"color":"#0000"},{"offset":0.64,"color":"#000"},{"offset":0.6411,"color":"#000"},{"offset":0.6411,"color":"#0000"},
            {"offset":0.648,"color":"#0000"},{"offset":0.648,"color":"#000"},{"offset":0.6491,"color":"#000"},{"offset":0.6491,"color":"#0000"},
            {"offset":0.656,"color":"#0000"},{"offset":0.656,"color":"#000"},{"offset":0.6571,"color":"#000"},{"offset":0.6571,"color":"#0000"},
            {"offset":0.664,"color":"#0000"},{"offset":0.664,"color":"#000"},{"offset":0.6651,"color":"#000"},{"offset":0.6651,"color":"#0000"},
            {"offset":0.672,"color":"#0000"},{"offset":0.672,"color":"#000"},{"offset":0.6731,"color":"#000"},{"offset":0.6731,"color":"#0000"},
            {"offset":0.68,"color":"#0000"},{"offset":0.68,"color":"#000"},{"offset":0.6811,"color":"#000"},{"offset":0.6811,"color":"#0000"},
            {"offset":0.688,"color":"#0000"},{"offset":0.688,"color":"#000"},{"offset":0.6891,"color":"#000"},{"offset":0.6891,"color":"#0000"},
            {"offset":0.696,"color":"#0000"},{"offset":0.696,"color":"#000"},{"offset":0.6971,"color":"#000"},{"offset":0.6971,"color":"#0000"},
            {"offset":0.704,"color":"#0000"},{"offset":0.704,"color":"#000"},{"offset":0.7051,"color":"#000"},{"offset":0.7051,"color":"#0000"},
            {"offset":0.712,"color":"#0000"},{"offset":0.712,"color":"#000"},{"offset":0.7131,"color":"#000"},{"offset":0.7131,"color":"#0000"},
            {"offset":0.72,"color":"#0000"},{"offset":0.72,"color":"#000"},{"offset":0.7211,"color":"#000"},{"offset":0.7211,"color":"#0000"},
            {"offset":0.728,"color":"#0000"},{"offset":0.728,"color":"#000"},{"offset":0.7291,"color":"#000"},{"offset":0.7291,"color":"#0000"},
            {"offset":0.736,"color":"#0000"},{"offset":0.736,"color":"#000"},{"offset":0.7371,"color":"#000"},{"offset":0.7371,"color":"#0000"},
            {"offset":0.744,"color":"#0000"},{"offset":0.744,"color":"#000"},{"offset":0.7451,"color":"#000"},{"offset":0.7451,"color":"#0000"},
            {"offset":0.752,"color":"#0000"},{"offset":0.752,"color":"#000"},{"offset":0.7531,"color":"#000"},{"offset":0.7531,"color":"#0000"},
            {"offset":0.76,"color":"#0000"},{"offset":0.76,"color":"#000"},{"offset":0.7611,"color":"#000"},{"offset":0.7611,"color":"#0000"},
            {"offset":0.768,"color":"#0000"},{"offset":0.768,"color":"#000"},{"offset":0.7691,"color":"#000"},{"offset":0.7691,"color":"#0000"},
            {"offset":0.776,"color":"#0000"},{"offset":0.776,"color":"#000"},{"offset":0.7771,"color":"#000"},{"offset":0.7771,"color":"#0000"},
            {"offset":0.784,"color":"#0000"},{"offset":0.784,"color":"#000"},{"offset":0.7851,"color":"#000"},{"offset":0.7851,"color":"#0000"},
            {"offset":0.792,"color":"#0000"},{"offset":0.792,"color":"#000"},{"offset":0.7931,"color":"#000"},{"offset":0.7931,"color":"#0000"},
            {"offset":0.8,"color":"#0000"},{"offset":0.8,"color":"#000"},{"offset":0.8011,"color":"#000"},{"offset":0.8011,"color":"#0000"},
            {"offset":0.808,"color":"#0000"},{"offset":0.808,"color":"#000"},{"offset":0.8091,"color":"#000"},{"offset":0.8091,"color":"#0000"},
            {"offset":0.816,"color":"#0000"},{"offset":0.816,"color":"#000"},{"offset":0.8171,"color":"#000"},{"offset":0.8171,"color":"#0000"},
            {"offset":0.824,"color":"#0000"},{"offset":0.824,"color":"#000"},{"offset":0.8251,"color":"#000"},{"offset":0.8251,"color":"#0000"},
            {"offset":0.832,"color":"#0000"},{"offset":0.832,"color":"#000"},{"offset":0.8331,"color":"#000"},{"offset":0.8331,"color":"#0000"},
            {"offset":0.84,"color":"#0000"},{"offset":0.84,"color":"#000"},{"offset":0.8411,"color":"#000"},{"offset":0.8411,"color":"#0000"},
            {"offset":0.848,"color":"#0000"},{"offset":0.848,"color":"#000"},{"offset":0.8491,"color":"#000"},{"offset":0.8491,"color":"#0000"},
            {"offset":0.856,"color":"#0000"},{"offset":0.856,"color":"#000"},{"offset":0.8571,"color":"#000"},{"offset":0.8571,"color":"#0000"},
            {"offset":0.864,"color":"#0000"},{"offset":0.864,"color":"#000"},{"offset":0.8651,"color":"#000"},{"offset":0.8651,"color":"#0000"},
            {"offset":0.872,"color":"#0000"},{"offset":0.872,"color":"#000"},{"offset":0.8731,"color":"#000"},{"offset":0.8731,"color":"#0000"},
            {"offset":0.88,"color":"#0000"},{"offset":0.88,"color":"#000"},{"offset":0.8811,"color":"#000"},{"offset":0.8811,"color":"#0000"},
            {"offset":0.888,"color":"#0000"},{"offset":0.888,"color":"#000"},{"offset":0.8891,"color":"#000"},{"offset":0.8891,"color":"#0000"},
            {"offset":0.896,"color":"#0000"},{"offset":0.896,"color":"#000"},{"offset":0.8971,"color":"#000"},{"offset":0.8971,"color":"#0000"},
            {"offset":0.904,"color":"#0000"},{"offset":0.904,"color":"#000"},{"offset":0.9051,"color":"#000"},{"offset":0.9051,"color":"#0000"},
            {"offset":0.912,"color":"#0000"},{"offset":0.912,"color":"#000"},{"offset":0.9131,"color":"#000"},{"offset":0.9131,"color":"#0000"},
            {"offset":0.92,"color":"#0000"},{"offset":0.92,"color":"#000"},{"offset":0.9211,"color":"#000"},{"offset":0.9211,"color":"#0000"},
            {"offset":0.928,"color":"#0000"},{"offset":0.928,"color":"#000"},{"offset":0.9291,"color":"#000"},{"offset":0.9291,"color":"#0000"},
            {"offset":0.936,"color":"#0000"},{"offset":0.936,"color":"#000"},{"offset":0.9371,"color":"#000"},{"offset":0.9371,"color":"#0000"},
            {"offset":0.944,"color":"#0000"},{"offset":0.944,"color":"#000"},{"offset":0.9451,"color":"#000"},{"offset":0.9451,"color":"#0000"},
            {"offset":0.952,"color":"#0000"},{"offset":0.952,"color":"#000"},{"offset":0.9531,"color":"#000"},{"offset":0.9531,"color":"#0000"},
            {"offset":0.96,"color":"#0000"},{"offset":0.96,"color":"#000"},{"offset":0.9611,"color":"#000"},{"offset":0.9611,"color":"#0000"},
            {"offset":0.968,"color":"#0000"},{"offset":0.968,"color":"#000"},{"offset":0.9691,"color":"#000"},{"offset":0.9691,"color":"#0000"}
          ]
        }
      },
      "encoding": {
        "y2": {"field": "lo"},
        "order": {"value": null}
      }
    },
    {
      "data": {"values": [{"t": 2019.1, "t2": 2024.17, "lo": 6.29, "hi": 8.3}]},
      "mark": {"type": "rect", "fill": "#ffffff", "fillOpacity": 0.92, "stroke": "#E69F00", "strokeWidth": 1.5, "cornerRadius": 4},
      "encoding": {"x2": {"field": "t2"}, "y2": {"field": "lo"}}
    },
    {
      "data": {"values": [{"t": 2019.24, "hi": 7.5, "label": "1.7M BTC in P2PK coins\nincl. Satoshi Era mining rewards"}]},
      "mark": {"type": "text", "align": "left", "baseline": "alphabetic", "fontSize": 15, "color": "#E69F00", "lineBreak": "\n", "lineHeight": 17.6},
      "encoding": {"text": {"field": "label"}}
    },
    {
      "data": {"values": [{"t": 2024.23, "hi": 5.98, "t2": 2025.5, "lo": 1.7}]},
      "mark": {"type": "rule", "color": "#E69F00", "strokeWidth": 1.6},
      "encoding": {"x2": {"field": "t2"}, "y2": {"field": "lo"}}
    },
    {
      "data": {"values": [{"t": 2025.5, "hi": 1.7}]},
      "mark": {"type": "point", "shape": "M0,1L-0.6,-1L0.6,-1Z", "angle": -34.3, "size": 225, "filled": true, "color": "#E69F00", "opacity": 1}
    }
  ]
}
